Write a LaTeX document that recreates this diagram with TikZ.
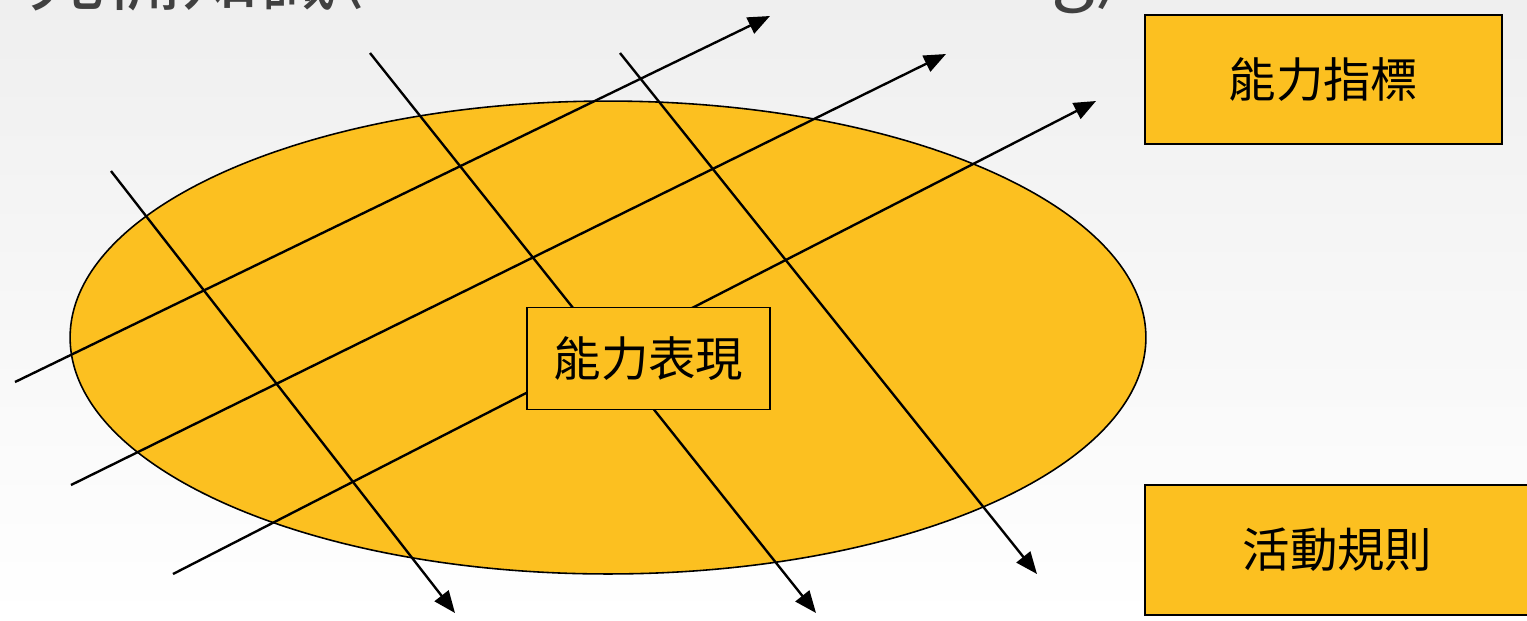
\documentclass[tikz,border=0pt]{standalone}
\usepackage{fontspec}
\setmainfont{Noto Sans CJK TC}
\usetikzlibrary{arrows.meta}
\definecolor{boxfill}{HTML}{FCC020}
\definecolor{bgtop}{HTML}{EFEFEF}
\definecolor{titlegray}{HTML}{404040}
\begin{document}
\begin{tikzpicture}[x=0.02cm,y=-0.02cm,
  lbl/.style={draw=black, line width=0.9pt, fill=boxfill, font=\fontsize{27}{32}\selectfont, inner sep=0pt, text=black},
  ttl/.style={anchor=base west, text=titlegray, font=\fontsize{44}{50}\selectfont, inner sep=0pt},
  ray/.style={line width=1.35pt, -{Triangle[length=12.5pt,width=10pt]}}]
\useasboundingbox (0,0) rectangle (1527,620);
\clip (0,0) rectangle (1527,620);
\shade[top color=bgtop, bottom color=white] (0,0) rectangle (1527,620);
\node[ttl] (titlecjk) at (28,4) {先備知識};
\node[ttl] (titlelat) at (338,-6) {(Prior Understanding)};
% ellipse
\draw[fill=boxfill, line width=0.9pt] (608,337.5) ellipse [x radius=10.76cm, y radius=4.73cm];
% grid lines
\coordinate (p1s) at (15,382);  \coordinate (p1e) at (770,16);
\coordinate (p2s) at (71,485);  \coordinate (p2e) at (946,54);
\coordinate (p3s) at (173,574); \coordinate (p3e) at (1096,101);
\coordinate (q1s) at (111,171); \coordinate (q1e) at (455,613);
\coordinate (q2s) at (370,53);  \coordinate (q2e) at (816,613);
\coordinate (q3s) at (620,53);  \coordinate (q3e) at (1037,574);
\draw[ray] (p1s) -- (p1e);
\draw[ray] (p2s) -- (p2e);
\draw[ray] (p3s) -- (p3e);
\draw[ray] (q1s) -- (q1e);
\draw[ray] (q2s) -- (q2e);
\draw[ray] (q3s) -- (q3e);
% boxes
\node[lbl, minimum width=4.86cm, minimum height=2.04cm] (perf) at (648.5,358.5) {能力表現};
\node[lbl, minimum width=7.14cm, minimum height=2.58cm] (ind) at (1323.5,79.5) {能力指標};
\node[lbl, minimum width=7.7cm, minimum height=2.6cm] (rule) at (1337.5,550) {活動規則};
\end{tikzpicture}
\end{document}
